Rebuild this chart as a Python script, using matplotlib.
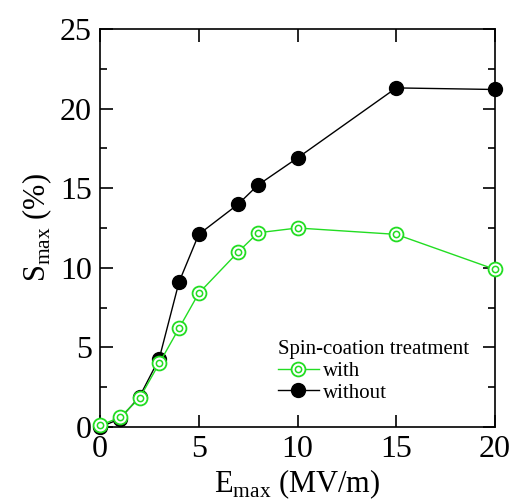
import matplotlib.pyplot as plt
from matplotlib.legend_handler import HandlerTuple

plt.rcParams['font.family'] = ['Liberation Serif', 'DejaVu Serif']
plt.rcParams['mathtext.fontset'] = 'custom'
plt.rcParams['mathtext.rm'] = 'Liberation Serif'

e_with = [0, 1, 2, 3, 4, 5, 7, 8, 10, 15, 20]
s_with = [0.1, 0.6, 1.8, 4.0, 6.2, 8.4, 11.0, 12.2, 12.5, 12.1, 9.9]
e_without = [0, 1, 2, 3, 4, 5, 7, 8, 10, 15, 20]
s_without = [0.0, 0.5, 1.9, 4.3, 9.1, 12.1, 14.0, 15.2, 16.9, 21.3, 21.2]

green = '#22dd22'

fig = plt.figure(figsize=(5.11, 5.01), dpi=100)
ax = fig.add_axes([100 / 511, 1 - 427 / 501, 395 / 511, 398 / 501])

l_without, = ax.plot(e_without, s_without, '-', color='black', lw=1,
                     marker='o', ms=10, mfc='black', mec='black', zorder=2, clip_on=False)
l_with, = ax.plot(e_with, s_with, '-', color=green, lw=1,
                  marker='o', ms=10, mfc='white', mec=green, mew=1.3, zorder=3, clip_on=False)
l_dot, = ax.plot(e_with, s_with, 'o', ms=4.5, mfc='none', mec=green, mew=1.1, zorder=4, clip_on=False)

ax.set_xlim(0, 20)
ax.set_ylim(0, 25)
ax.set_xticks([0, 5, 10, 15, 20])
ax.set_yticks([0, 5, 10, 15, 20, 25])
ax.set_yticks([2.5, 7.5, 12.5, 17.5, 22.5], minor=True)
ax.tick_params(which='both', direction='in', top=True, right=True, labelsize=23, width=1.2)
ax.tick_params(which='major', length=9, pad=6)
ax.tick_params(which='minor', length=5)
for sp in ax.spines.values():
    sp.set_linewidth(1.2)

ax.set_xlabel(r'E$_{\mathrm{max}}$ (MV/m)', fontsize=22, labelpad=2)
ax.set_ylabel(r'S$_{\mathrm{max}}$ (%)', fontsize=22, labelpad=4)

leg = ax.legend([(l_with, l_dot), l_without], ['with', 'without'],
                handler_map={tuple: HandlerTuple(ndivide=1, pad=0)},
                title='Spin-coation treatment', loc='lower right',
                bbox_to_anchor=(0.965, 0.03), frameon=False, fontsize=15,
                title_fontsize=15, handlelength=2.0, handletextpad=0.2,
                labelspacing=0.1, borderpad=0.1, markerscale=1.0)
leg._legend_box.align = 'left'

fig.savefig('out.png', dpi=100)
